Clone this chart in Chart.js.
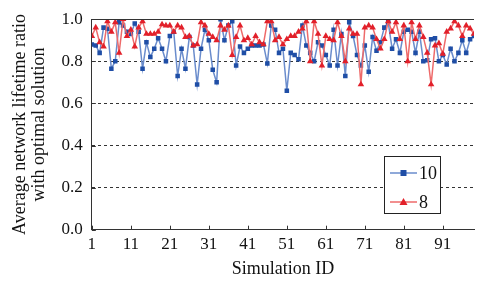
<!DOCTYPE html>
<html>
<head>
<meta charset="utf-8">
<script src="https://cdn.jsdelivr.net/npm/chart.js@4"></script>
<style>
  html, body { margin: 0; padding: 0; background: #fff; }
  #wrap { width: 478px; height: 282px; }
</style>
</head>
<body>
<div id="wrap"><canvas id="lifeChart" width="478" height="282"></canvas></div>
<script>
// ---- data ----
const simIds = Array.from({ length: 100 }, (_, i) => i + 1);
const xTicks = [1, 11, 21, 31, 41, 51, 61, 71, 81, 91];
const yTicks = [0, 0.2, 0.4, 0.6, 0.8, 1.0];

const series10 = [
  0.88, 0.875, 0.84, 0.96, 0.955, 0.765, 0.80, 0.985, 0.97, 0.94,
  0.93, 0.98, 0.94, 0.765, 0.89, 0.82, 0.86, 0.91, 0.86, 0.80,
  0.92, 0.94, 0.73, 0.86, 0.765, 0.915, 0.875, 0.69, 0.86, 0.95,
  0.90, 0.76, 0.70, 1.0, 0.90, 0.97, 0.99, 0.78, 0.87, 0.84,
  0.86, 0.875, 0.875, 0.875, 0.88, 0.79, 0.97, 0.95, 0.84, 0.86,
  0.66, 0.84, 0.83, 0.81, 0.97, 0.875, 0.84, 0.80, 0.89, 0.875,
  0.83, 0.78, 0.95, 0.78, 0.93, 0.73, 0.985, 0.92, 0.83, 0.78,
  0.875, 0.75, 0.915, 0.85, 0.89, 0.96, 0.985, 0.86, 0.905, 0.84,
  0.94, 0.95, 0.94, 0.84, 0.94, 0.80, 0.805, 0.905, 0.91, 0.80,
  0.83, 0.785, 0.86, 0.80, 0.84, 0.90, 0.84, 0.905, 0.92, 0.88
];

const series8 = [
  0.92, 0.96, 0.89, 0.87, 0.99, 0.94, 0.985, 0.84, 1.0, 0.92,
  0.95, 0.87, 0.96, 0.99, 0.93, 0.93, 0.93, 0.94, 0.975, 0.97,
  0.97, 0.94, 0.97, 0.96, 0.915, 0.92, 0.875, 0.88, 0.985, 0.97,
  0.93, 0.915, 0.90, 0.97, 0.95, 0.97, 0.83, 0.915, 0.97, 0.90,
  0.91, 0.88, 0.92, 0.89, 0.88, 0.99, 0.99, 0.90, 0.915, 0.88,
  0.905, 0.92, 0.92, 0.94, 0.955, 0.99, 0.80, 0.99, 0.93, 0.78,
  0.92, 0.905, 0.90, 0.985, 0.92, 0.80, 0.955, 0.93, 0.93, 0.69,
  0.96, 0.97, 0.96, 0.905, 0.86, 0.905, 0.99, 0.94, 0.985, 0.905,
  0.97, 0.80, 0.985, 0.905, 0.97, 0.915, 0.84, 0.69, 0.875, 0.885,
  0.835, 0.94, 0.955, 0.99, 0.97, 0.92, 0.97, 0.955, 0.93, 0.96
];

const toPoints = vals => vals.map((v, i) => ({ x: simIds[i], y: v }));

const BLUE_LINE = "#6a8ccc", BLUE_MARK = "#1f4ea6";
const RED_LINE = "#ee6a6a", RED_MARK = "#e2202a";
const SERIF = "'Liberation Serif', 'DejaVu Serif', serif";

// inward ticks, solid top line at 1.0, boxed legend inside the plot
const decorations = {
  id: "decorations",
  afterDraw(chart) {
    const { ctx, scales: { x, y }, chartArea: a } = chart;
    ctx.save();
    ctx.strokeStyle = "#333";
    ctx.lineWidth = 1;
    ctx.beginPath();
    const yTop = Math.round(y.getPixelForValue(1.0)) + 0.5;
    ctx.moveTo(a.left, yTop);
    ctx.lineTo(a.right, yTop);
    xTicks.forEach(v => {
      const px = Math.round(x.getPixelForValue(v)) + 0.5;
      ctx.moveTo(px, a.bottom);
      ctx.lineTo(px, a.bottom - 4);
    });
    yTicks.forEach(v => {
      const py = Math.round(y.getPixelForValue(v)) + 0.5;
      ctx.moveTo(a.left, py);
      ctx.lineTo(a.left + 4, py);
    });
    ctx.stroke();

    // legend
    const bx = 384.5, by = 156.5, bw = 56, bh = 57;
    ctx.fillStyle = "#fff";
    ctx.fillRect(bx, by, bw, bh);
    ctx.strokeStyle = "#222";
    ctx.strokeRect(bx, by, bw, bh);
    const rows = [
      { ds: chart.data.datasets[0], yy: 173 },
      { ds: chart.data.datasets[1], yy: 202 }
    ];
    ctx.font = "18px " + SERIF;
    ctx.textBaseline = "middle";
    rows.forEach(r => {
      ctx.strokeStyle = r.ds.borderColor;
      ctx.lineWidth = 1.5;
      ctx.beginPath();
      ctx.moveTo(390, r.yy);
      ctx.lineTo(417, r.yy);
      ctx.stroke();
      ctx.fillStyle = r.ds.pointBackgroundColor;
      ctx.beginPath();
      if (r.ds.pointStyle === "rect") {
        ctx.rect(400.5, r.yy - 3, 6, 6);
      } else {
        ctx.moveTo(403.5, r.yy - 4);
        ctx.lineTo(407.5, r.yy + 3);
        ctx.lineTo(399.5, r.yy + 3);
        ctx.closePath();
      }
      ctx.fill();
      ctx.fillStyle = "#111";
      ctx.fillText(r.ds.label, 419, r.yy + 1);
    });
    ctx.restore();
  }
};

Chart.defaults.animation = false;

new Chart(document.getElementById("lifeChart"), {
  type: "line",
  data: {
    datasets: [
      {
        label: "10",
        data: toPoints(series10),
        borderColor: BLUE_LINE,
        borderWidth: 1.5,
        pointStyle: "rect",
        pointRadius: 3.2,
        pointBackgroundColor: BLUE_MARK,
        pointBorderColor: BLUE_MARK,
        pointBorderWidth: 0,
        tension: 0,
        order: 2
      },
      {
        label: "8",
        data: toPoints(series8),
        borderColor: RED_LINE,
        borderWidth: 1.5,
        pointStyle: "triangle",
        pointRadius: 3.8,
        pointBackgroundColor: RED_MARK,
        pointBorderColor: RED_MARK,
        pointBorderWidth: 0,
        tension: 0,
        order: 1
      }
    ]
  },
  options: {
    responsive: false,
    animation: false,
    layout: { padding: { left: 4, right: 0, top: 19, bottom: 1 } },
    plugins: { legend: { display: false }, tooltip: { enabled: false } },
    scales: {
      x: {
        type: "linear",
        min: 1,
        max: 99,
        afterBuildTicks: s => { s.ticks = xTicks.map(v => ({ value: v })); },
        grid: { drawOnChartArea: false, drawTicks: false },
        border: { display: true, color: "#333", width: 1 },
        ticks: {
          padding: 5,
          color: "#111",
          maxRotation: 0,
          autoSkip: false,
          font: { family: SERIF, size: 17, lineHeight: 1.1 }
        },
        title: {
          display: true,
          text: "Simulation ID",
          color: "#111",
          padding: { top: 0, bottom: 1 },
          font: { family: SERIF, size: 18 }
        }
      },
      y: {
        min: 0,
        max: 1.0,
        afterBuildTicks: s => { s.ticks = yTicks.map(v => ({ value: v })); },
        grid: {
          drawTicks: false,
          color: c => (c.tick && (c.tick.value === 0 || c.tick.value === 1)) ? "rgba(0,0,0,0)" : "#333",
          lineWidth: 1
        },
        border: { display: true, color: "#333", width: 1, dash: [3, 3] },
        ticks: {
          padding: 9,
          color: "#111",
          font: { family: SERIF, size: 17 },
          callback: v => Number(v).toFixed(1)
        },
        title: {
          display: true,
          text: ["Average network lifetime ratio", "with optimal solution"],
          color: "#111",
          padding: { top: 6, bottom: 3 },
          font: { family: SERIF, size: 18, lineHeight: 1.1 }
        }
      }
    }
  },
  plugins: [decorations]
});
</script>
</body>
</html>
